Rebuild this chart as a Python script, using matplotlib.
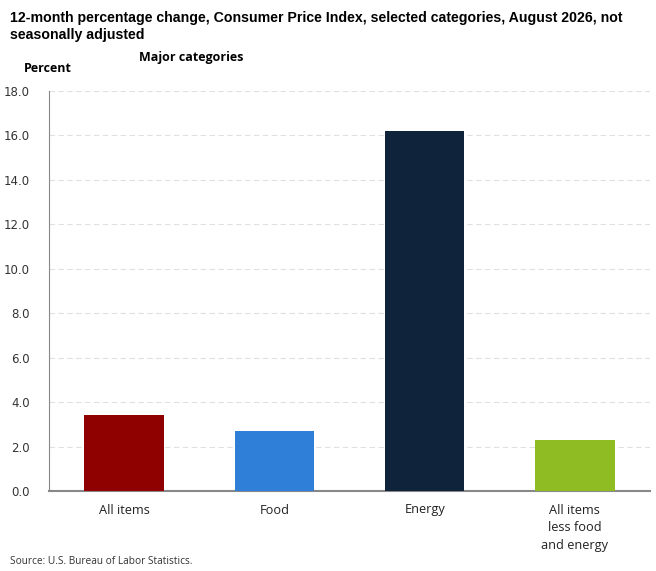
import matplotlib
matplotlib.use("Agg")
import matplotlib.pyplot as plt

categories = ["All items", "Food", "Energy", "All items\nless food\nand energy"]
values = [3.4, 2.7, 16.2, 2.3]
colors = ["#8f0000", "#2f7ed8", "#0f243b", "#8ebc22"]
yticks = [0, 2, 4, 6, 8, 10, 12, 14, 16, 18]

fig = plt.figure(figsize=(6.56, 5.71), dpi=100)
ax = fig.add_axes([49/656, 1-491/571, (650-49)/656, 400/571])

x = range(len(categories))
ax.bar(x, values, width=0.53, color=colors, zorder=3)
ax.set_xlim(-0.5, len(categories) - 0.5)
ax.set_ylim(0, 18)
ax.set_yticks(yticks)
ax.set_yticklabels([f"{v:.1f}" for v in yticks], fontsize=8.5, color="#333333")
ax.set_xticks(list(x))
ax.set_xticklabels(categories, fontsize=9.2, family="Open Sans", color="#222222", linespacing=1.45, va="top")
ax.tick_params(axis="both", length=0)
ax.tick_params(axis="x", pad=9)
ax.tick_params(axis="y", pad=14)
ax.grid(axis="y", color="#e0e0e0", linestyle=(0, (5, 3)), linewidth=0.8, zorder=0)
for s in ["top", "right"]:
    ax.spines[s].set_visible(False)
ax.spines["left"].set_color("#888888")
ax.spines["left"].set_linewidth(0.8)
ax.spines["bottom"].set_color("#888888")
ax.spines["bottom"].set_linewidth(1.5)

fig.text(10/656, 1-11/571, "12-month percentage change, Consumer Price Index, selected categories, August 2026, not\nseasonally adjusted",
         ha="left", va="top", fontsize=10.2, fontweight="bold", family="Liberation Sans", linespacing=1.3)
fig.text(24/656, 1-68/571, "Percent", ha="left", va="center", fontsize=9, fontweight="bold", family="Open Sans")
fig.text(139/656, 1-57/571, "Major categories", ha="left", va="center", fontsize=9, fontweight="bold", family="Open Sans")
fig.text(10/656, 1-562/571, "Source: U.S. Bureau of Labor Statistics.", ha="left", va="center", fontsize=7.3, family="Open Sans", color="#333333")

fig.savefig("out.png", dpi=100)
